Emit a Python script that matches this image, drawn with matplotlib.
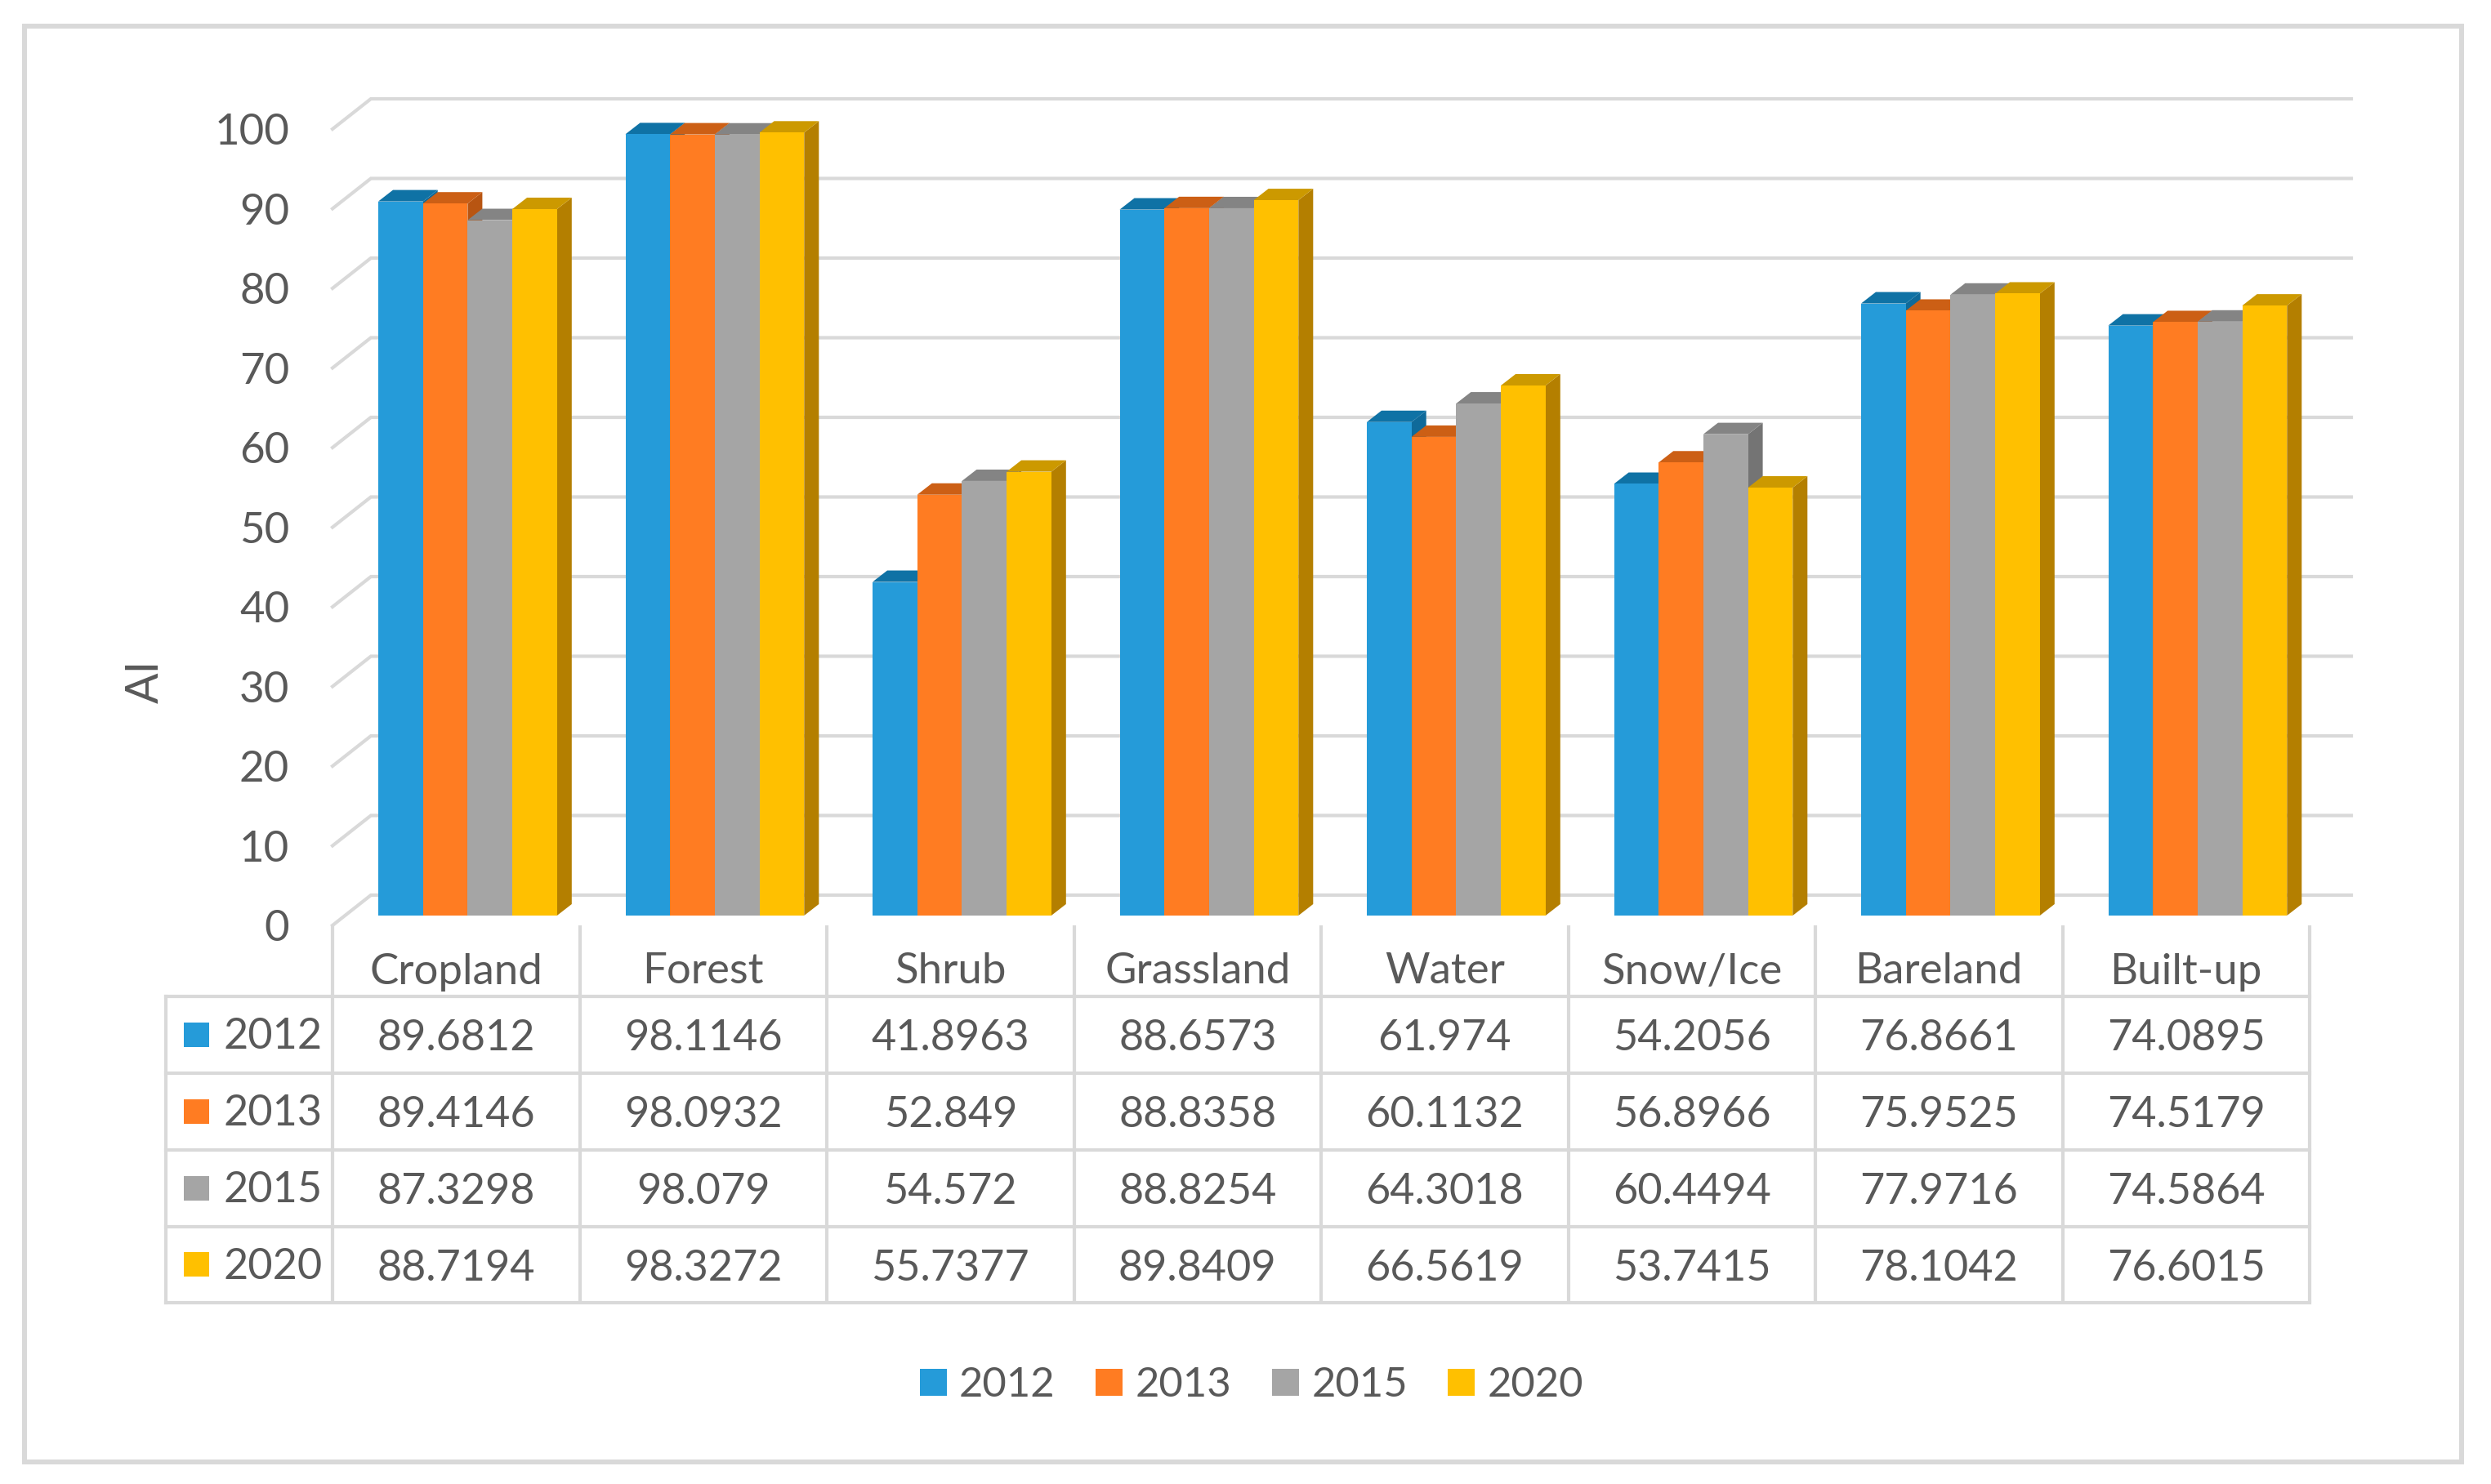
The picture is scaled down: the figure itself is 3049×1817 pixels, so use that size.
import numpy as np
import matplotlib
matplotlib.use('Agg')
import matplotlib.pyplot as plt
from matplotlib.patches import Patch, Rectangle

categories = ['Cropland', 'Forest', 'Shrub', 'Grassland', 'Water', 'Snow/Ice', 'Bareland', 'Built-up']
years = ['2012', '2013', '2015', '2020']

ai_2012 = [89.6812, 98.1146, 41.8963, 88.6573, 61.974, 54.2056, 76.8661, 74.0895]
ai_2013 = [89.4146, 98.0932, 52.849, 88.8358, 60.1132, 56.8966, 75.9525, 74.5179]
ai_2015 = [87.3298, 98.079, 54.572, 88.8254, 64.3018, 60.4494, 77.9716, 74.5864]
ai_2020 = [88.7194, 98.3272, 55.7377, 89.8409, 66.5619, 53.7415, 78.1042, 76.6015]
series = [ai_2012, ai_2013, ai_2015, ai_2020]

yticks = list(range(0, 101, 10))

front_colors = ['#259bd9', '#ff7c22', '#a5a5a5', '#ffc000']
top_colors = ['#0f72a5', '#cc5f15', '#848484', '#cc9900']
side_colors = ['#0f6a9a', '#b85512', '#747474', '#b47f00']
line_color = '#d9d9d9'
text_color = '#595959'

plt.rcParams['font.family'] = ['Lato', 'DejaVu Sans']

W, H = 3049, 1817
fig = plt.figure(figsize=(W / 100, H / 100), dpi=100, facecolor='white')

# pixel layer for the frame and the data table
overlay = fig.add_axes([0, 0, 1, 1])
overlay.set_xlim(0, W)
overlay.set_ylim(H, 0)
overlay.axis('off')

# chart axes, x in categories and y in AI
left, right, top, bottom = 407, 2827, 158, 1133
ax = fig.add_axes([left / W, 1 - bottom / H, (right - left) / W, (bottom - top) / H])
ax.patch.set_alpha(0)
ax.set_xlim(0, 8)
ax.set_ylim(0, 100)
for s in ax.spines.values():
    s.set_visible(False)
ax.set_xticks([])
ax.set_yticks(yticks)
ax.tick_params(axis='y', length=0, pad=38, labelsize=38, labelcolor=text_color)

px_x = (right - left) / 8
px_y = (bottom - top) / 100

# perspective offsets
back_dx = 47 / px_x
back_dy = 37 / px_y
grid_end = (2878 - left) / px_x
base = 12 / px_y
bar_w = 54.7 / px_x
bar_start = 56 / px_x
depth_x = 18 / px_x
depth_y = 14 / px_y

for v in yticks:
    ax.plot([0, back_dx, grid_end], [v, v + back_dy, v + back_dy], color=line_color, lw=3,
            clip_on=False, zorder=1, solid_joinstyle='miter')

for c in range(len(categories)):
    for i, values in enumerate(series):
        x0 = c + bar_start + i * bar_w
        x1 = x0 + bar_w
        y1 = base + values[c]
        ax.fill([x1, x1 + depth_x, x1 + depth_x, x1],
                [base, base + depth_y, y1 + depth_y, y1],
                color=side_colors[i], lw=0, clip_on=False, zorder=3)
        ax.fill([x0, x0 + depth_x, x1 + depth_x, x1],
                [y1, y1 + depth_y, y1 + depth_y, y1],
                color=top_colors[i], lw=0, clip_on=False, zorder=3)
        ax.bar(x0, values[c], width=bar_w, bottom=base, align='edge', color=front_colors[i],
               lw=0, clip_on=False, zorder=3)

ax.set_ylabel('AI', fontsize=40, color=text_color)
ax.yaxis.set_label_coords((204 - left) / (right - left), (bottom - 834) / (bottom - top))

# outer frame
overlay.add_patch(Rectangle((29.5, 32), 2983.5, 1758, fill=False, ec=line_color, lw=4.3))

# data table
col_x = [left + k * px_x for k in range(len(categories) + 1)]
row_y = [1220, 1314, 1408, 1502, 1595]
table_left = 203
for y in row_y:
    overlay.plot([table_left, right], [y, y], color=line_color, lw=3, solid_capstyle='projecting')
for x in col_x:
    overlay.plot([x, x], [1133, row_y[-1]], color=line_color, lw=3, solid_capstyle='butt')
overlay.plot([table_left, table_left], [row_y[0], row_y[-1]], color=line_color, lw=3)

for c, name in enumerate(categories):
    cx = (col_x[c] + col_x[c + 1]) / 2
    overlay.text(cx, 1190, name, ha='center', va='center', fontsize=38, color=text_color)
    for r, values in enumerate(series):
        cy = (row_y[r] + row_y[r + 1]) / 2
        overlay.text(cx, cy + 5, str(values[c]), ha='center', va='center', fontsize=37.5, color=text_color)

for r, year in enumerate(years):
    cy = (row_y[r] + row_y[r + 1]) / 2
    overlay.add_patch(Rectangle((225, cy - 15), 31, 30, fc=front_colors[r], ec='none'))
    overlay.text(273, cy + 3, year, ha='left', va='center', fontsize=37.5, color=text_color)

# bottom legend
handles = [Patch(fc=front_colors[i], ec='none', label=years[i]) for i in range(len(years))]
overlay.legend(handles=handles, loc='center', bbox_to_anchor=(1532 / W, 1 - 1696 / H),
               bbox_transform=fig.transFigure, ncol=4, frameon=False, fontsize=36.5,
               labelcolor=text_color, handlelength=0.65, handleheight=0.62,
               handletextpad=0.3, columnspacing=0.98, borderpad=0)

fig.savefig('out.png', dpi=100, facecolor='white')
plt.close(fig)
